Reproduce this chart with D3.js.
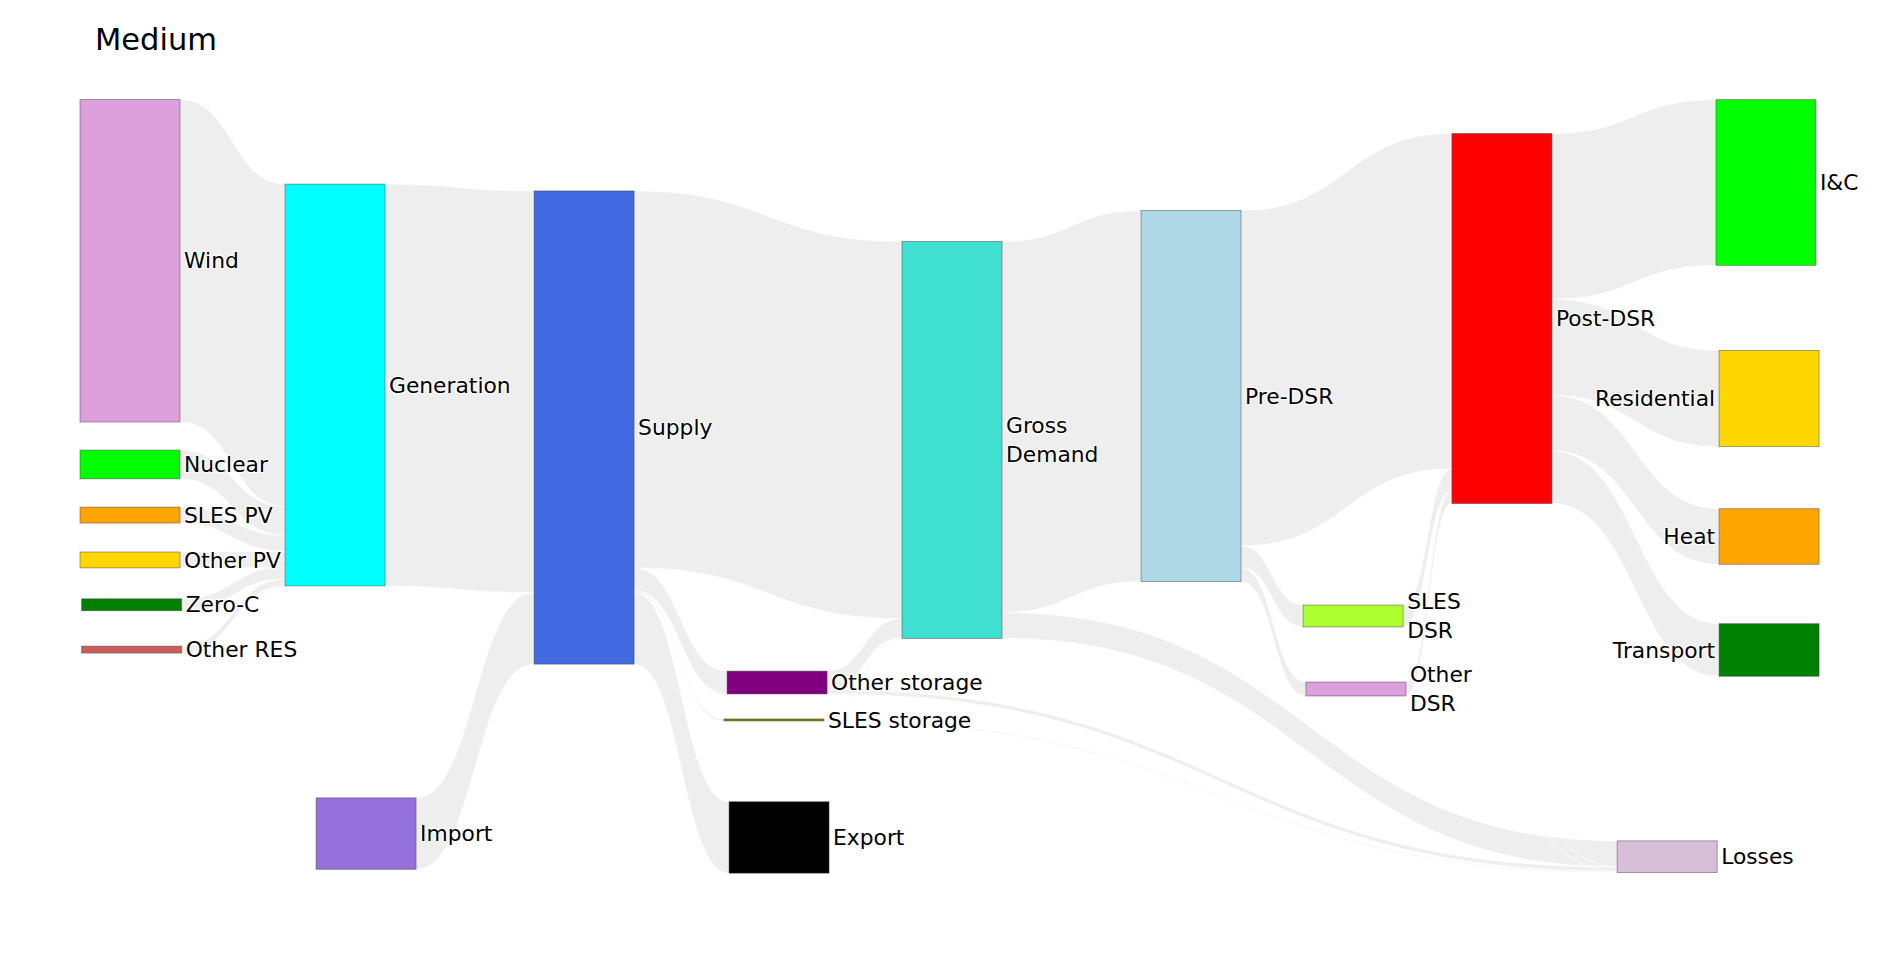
<!DOCTYPE html>
<html>
<head>
<meta charset="utf-8">
<script src="https://cdn.jsdelivr.net/npm/d3@7"></script>
<style>
  body { margin: 0; background: #fff; }
  svg text { font-family: "DejaVu Sans", Verdana, sans-serif; }
  .node-label {
    font-size: 21.8px;
    fill: #000;
    text-shadow: 1px 1px 1px #fff, -1px -1px 1px #fff, 1px -1px 1px #fff, -1px 1px 1px #fff;
  }
</style>
</head>
<body>
<svg id="chart" width="1904" height="953"></svg>
<script>
// node names (labels use \n for the wrapped ones)
const nodeNames = ['Wind', 'Nuclear', 'SLES PV', 'Other PV', 'Zero-C', 'Other RES',
  'Generation', 'Import', 'Supply', 'Other storage', 'SLES storage', 'Export',
  'Gross Demand', 'Pre-DSR', 'SLES DSR', 'Other DSR', 'Post-DSR',
  'I&C', 'Residential', 'Heat', 'Transport', 'Losses']
const nodeLabels = ['Wind', 'Nuclear', 'SLES PV', 'Other PV', 'Zero-C', 'Other RES',
  'Generation', 'Import', 'Supply', 'Other storage', 'SLES storage', 'Export',
  'Gross\nDemand', 'Pre-DSR', 'SLES\nDSR', 'Other\nDSR', 'Post-DSR',
  'I&C', 'Residential', 'Heat', 'Transport', 'Losses']
const nodeColors = ['plum', 'lime', 'orange', 'gold', 'green', 'indianred',
  'cyan', 'mediumpurple', 'royalblue', 'purple', 'olive', 'black',
  'turquoise', 'lightblue', 'greenyellow', 'plum', 'red',
  'lime', 'gold', 'orange', 'green', 'thistle']

// freeform node placement (fractions of the plot area, like plotly node.x / node.y)
const nodeX = [0, 0, 0, 0, 0.001, 0.001,
  0.1247, 0.1436, 0.2762, 0.3936, 0.3917, 0.3948,
  0.5, 0.6454, 0.744, 0.7457, 0.8345,
  0.9951, 0.997, 0.997, 0.997, 0.935]
const nodeY = [0.208, 0.4715, 0.537, 0.595, 0.653, 0.711,
  0.3687, 0.949, 0.4237, 0.7536, 0.802, 0.954,
  0.4398, 0.383, 0.6675, 0.762, 0.2827,
  0.1067, 0.3862, 0.5647, 0.7115, 0.979]
const labelsLeft = ['Residential', 'Heat', 'Transport']

// links (TWh)
const linkSources = ['Wind', 'Nuclear', 'SLES PV', 'Other PV', 'Zero-C', 'Other RES',
  'Generation', 'Import',
  'Supply', 'Supply', 'Supply', 'Supply',
  'Other storage', 'Other storage', 'SLES storage', 'SLES storage',
  'Gross Demand', 'Gross Demand',
  'Pre-DSR', 'Pre-DSR', 'Pre-DSR',
  'SLES DSR', 'SLES DSR', 'Other DSR', 'Other DSR',
  'Post-DSR', 'Post-DSR', 'Post-DSR', 'Post-DSR']
const linkTargets = ['Generation', 'Generation', 'Generation', 'Generation', 'Generation', 'Generation',
  'Supply', 'Supply',
  'Gross Demand', 'Other storage', 'SLES storage', 'Export',
  'Gross Demand', 'Losses', 'Gross Demand', 'Losses',
  'Pre-DSR', 'Losses',
  'Post-DSR', 'SLES DSR', 'Other DSR',
  'Post-DSR', 'Losses', 'Post-DSR', 'Losses',
  'I&C', 'Residential', 'Heat', 'Transport']
const linkValues = [32.5, 2.9, 1.6, 1.6, 1.2, 0.7,
  40.5, 7.2,
  38.0, 2.3, 0.2, 7.2,
  1.9, 0.4, 0.1, 0.1,
  37.4, 2.6,
  33.8, 2.2, 1.4,
  2.15, 0.05, 1.35, 0.05,
  16.7, 9.7, 5.6, 5.3]

const chartTitle = 'Medium'

const W = 1904, H = 953
const margin = {l: 80, r: 80, t: 100, b: 80}
const thickness = 100

const svg = d3.select('#chart')

const xPos = d3.scaleLinear().domain([0, 1]).range([margin.l, W - margin.r - thickness])
const yPos = d3.scaleLinear().domain([0, 1]).range([margin.t, H - margin.b])
const size = d3.scaleLinear().domain([0, 1]).range([0, 9.92])

// build graph
var nodes = nodeNames.map(function (name, i) {
  return {name: name, label: nodeLabels[i], color: nodeColors[i], fx: nodeX[i], fy: nodeY[i],
    sourceLinks: [], targetLinks: []}
})
var byName = new Map(nodes.map(n => [n.name, n]))

var links = linkValues.map(function (v, i) {
  var l = {source: byName.get(linkSources[i]), target: byName.get(linkTargets[i]), value: v, index: i}
  l.source.sourceLinks.push(l)
  l.target.targetLinks.push(l)
  return l
})

nodes.forEach(function (n) {
  var vin = d3.sum(n.targetLinks, l => l.value)
  var vout = d3.sum(n.sourceLinks, l => l.value)
  n.value = Math.max(vin, vout)
  var h = size(n.value)
  n.x0 = xPos(n.fx)
  n.x1 = n.x0 + thickness
  n.y0 = yPos(n.fy) - h / 2
  n.y1 = n.y0 + h
})

// stack link ends on each node, ordered by the position of the other end
nodes.forEach(function (n) {
  n.sourceLinks.sort((a, b) => (a.target.y0 - b.target.y0) || (a.index - b.index))
  n.targetLinks.sort((a, b) => (a.source.y0 - b.source.y0) || (a.index - b.index))
  var y = n.y0
  n.sourceLinks.forEach(function (l) {
    l.width = size(l.value)
    l.sy0 = y
    y += l.width
  })
  y = n.y0
  n.targetLinks.forEach(function (l) {
    l.ty0 = y
    y += size(l.value)
  })
})

function linkPath (l) {
  var x0 = l.source.x1, x1 = l.target.x0
  var xi = d3.interpolateNumber(x0, x1)
  var x2 = xi(0.5), x3 = xi(0.5)
  var ya = l.sy0, yb = l.sy0 + l.width
  var yc = l.ty0, yd = l.ty0 + l.width
  return 'M' + x0 + ',' + ya +
    'C' + x2 + ',' + ya + ' ' + x3 + ',' + yc + ' ' + x1 + ',' + yc +
    'L' + x1 + ',' + yd +
    'C' + x3 + ',' + yd + ' ' + x2 + ',' + yb + ' ' + x0 + ',' + yb + 'Z'
}

svg.append('g')
  .selectAll('path')
  .data(links)
  .join('path')
  .attr('d', linkPath)
  .style('fill', '#eeeeee')
  .style('stroke', '#fff')
  .style('stroke-width', 0.5)

svg.append('g')
  .selectAll('rect')
  .data(nodes)
  .join('rect')
  .attr('x', d => d.x0)
  .attr('y', d => d.y0)
  .attr('width', d => d.x1 - d.x0)
  .attr('height', d => Math.max(d.y1 - d.y0, 1))
  .style('fill', d => d.color)
  .style('stroke', '#444')
  .style('stroke-opacity', 0.6)
  .style('stroke-width', 0.8)

var lineH = 1.3
var labels = svg.append('g')
  .selectAll('text')
  .data(nodes)
  .join('text')
  .attr('class', 'node-label')
  .attr('x', d => labelsLeft.includes(d.name) ? d.x0 - 4 : d.x1 + 4)
  .attr('y', d => (d.y0 + d.y1) / 2)
  .attr('text-anchor', d => labelsLeft.includes(d.name) ? 'end' : 'start')

labels.each(function (d) {
  var lines = d.label.split('\n')
  var x = labelsLeft.includes(d.name) ? d.x0 - 4 : d.x1 + 4
  d3.select(this).selectAll('tspan')
    .data(lines)
    .join('tspan')
    .attr('x', x)
    .attr('dy', (t, i) => i === 0 ? (0.35 - (lines.length - 1) * lineH / 2) + 'em' : lineH + 'em')
    .text(t => t)
})

svg.append('text')
  .attr('x', 95)
  .attr('y', 50)
  .style('font-size', '30.5px')
  .style('fill', '#000')
  .text(chartTitle)
</script>
</body>
</html>
